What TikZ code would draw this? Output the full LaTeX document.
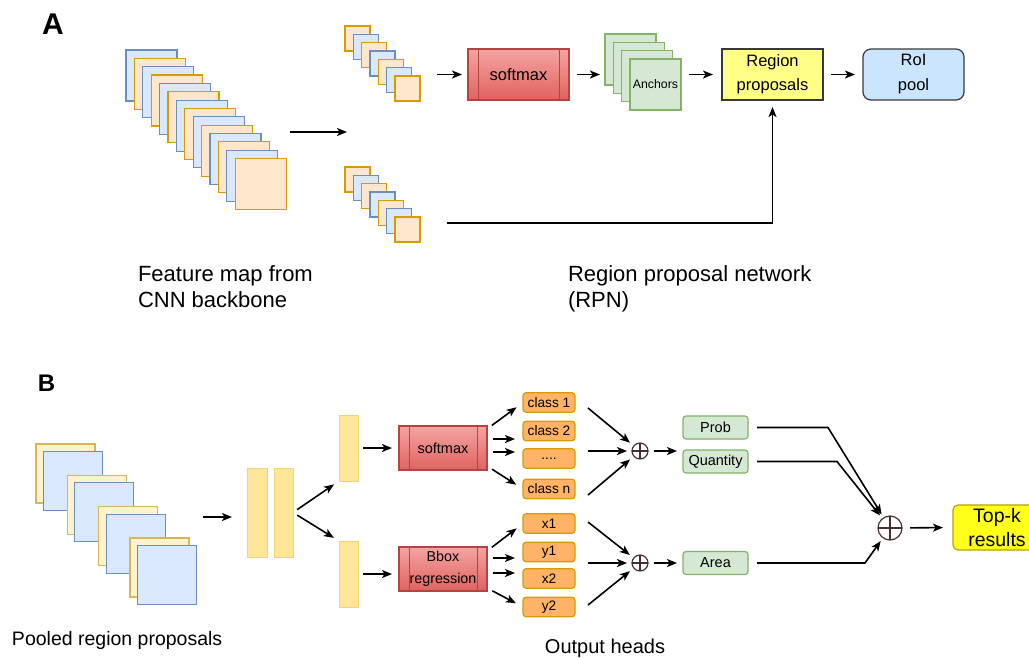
\documentclass[tikz,border=0pt]{standalone}
\usepackage{fontspec}
\setmainfont{Liberation Sans}
\usepackage{tikz}
\usetikzlibrary{arrows.meta, positioning, calc}

\definecolor{bluefill}{HTML}{DAE8FC}
\definecolor{blueline}{HTML}{6C8EBF}
\definecolor{orangefill}{HTML}{FFE6CC}
\definecolor{orangeline}{HTML}{D79B00}
\definecolor{greenfill}{HTML}{D5E8D4}
\definecolor{greenline}{HTML}{82B366}
\definecolor{paleyellow}{HTML}{FFF2CC}
\definecolor{paleyellowline}{HTML}{D6B656}
\definecolor{barfill}{HTML}{FFE699}
\definecolor{barline}{HTML}{F2D27A}
\definecolor{redtop}{HTML}{F4A4A2}
\definecolor{redbottom}{HTML}{E0625F}
\definecolor{redline}{HTML}{B24442}
\definecolor{propyellow}{HTML}{FFFF88}
\definecolor{roiblue}{HTML}{CCE5FF}
\definecolor{darkline}{HTML}{36393D}
\definecolor{headfill}{HTML}{FFB366}
\definecolor{topkyellow}{HTML}{FFFF1A}
\definecolor{topkline}{HTML}{B8A200}
\definecolor{crossline}{HTML}{4A2E2E}

\newcommand{\fs}[2]{\fontsize{#1}{#2}\selectfont}

\begin{document}
\begin{tikzpicture}[x=1pt, y=-1pt, >={Stealth[length=10pt, width=8pt, inset=2.5pt]}, line width=1.6pt,
    every node/.style={inner sep=0pt, outer sep=0pt},
    sq/.style={draw, line width=1.2pt, minimum size=#1},
    redbox/.style={draw=redline, top color=redtop, bottom color=redbottom, line width=1.2pt,
        path picture={\draw[redline, line width=1pt]
            ([xshift=10pt]path picture bounding box.north west) -- ([xshift=10pt]path picture bounding box.south west)
            ([xshift=-10pt]path picture bounding box.north east) -- ([xshift=-10pt]path picture bounding box.south east);}},
    bar/.style={draw=barline, fill=barfill, line width=1pt},
    head/.style={draw=orangeline, fill=headfill, rounded corners=3pt, line width=1.2pt,
        minimum width=52pt, minimum height=19.5pt, font=\fs{13.7}{16}},
    score/.style={draw=greenline, fill=greenfill, rounded corners=3pt, line width=1.2pt,
        minimum width=65pt, minimum height=23pt, font=\fs{14.5}{17}},
    oplus/.style={circle, draw=crossline, line width=1.2pt, minimum size=#1,
        path picture={\draw[crossline, line width=1.2pt]
            (path picture bounding box.north) -- (path picture bounding box.south)
            (path picture bounding box.west) -- (path picture bounding box.east);}},
    flow/.style={->, shorten <=6pt, shorten >=6pt},
    fan/.style={->, shorten <=6pt, shorten >=8pt}]

    \fill[white] (0,0) rectangle (1029,657);
    \useasboundingbox (0,0) rectangle (1029,657);

    % ---------------- A: region proposal network
    \node[font=\bfseries\fs{30}{30}] (lblA) at (53,24) {A};

    % feature map
    \foreach \i in {0,...,13}{
        \ifodd\i \def\cf{orangefill}\def\cl{orangeline}\else \def\cf{bluefill}\def\cl{blueline}\fi
        \node[sq=51pt, fill=\cf, draw=\cl] (f\i) at (151.5+8.4*\i, 75.5+8.35*\i) {};
    }
    % two small maps
    \foreach \i in {0,...,6}{
        \ifodd\i \def\cf{bluefill}\def\cl{blueline}\else \def\cf{orangefill}\def\cl{orangeline}\fi
        \node[sq=25pt, fill=\cf, draw=\cl] (u\i) at (357.5+8.33*\i, 38.5+8.33*\i) {};
        \node[sq=25pt, fill=\cf, draw=\cl] (l\i) at (357.5+8.33*\i, 179.5+8.33*\i) {};
    }
    \coordinate (fa1) at (290,132);
    \coordinate (fa2) at (347,132);
    \draw[->] (fa1) -- (fa2);

    \node[redbox, minimum width=101pt, minimum height=51pt, font=\fs{16.5}{20}] (sma) at (518.5,74.5) {softmax};

    % anchors
    \foreach \i in {0,...,2}
        \node[sq=51pt, fill=greenfill, draw=greenline] (a\i) at (630.5+8.33*\i, 59.5+8.33*\i) {};
    \node[sq=51pt, fill=greenfill, draw=greenline, font=\fs{12.3}{14}] (a3) at (655.5,84.5) {Anchors};

    \node[draw=darkline, fill=propyellow, line width=1.2pt, minimum width=101pt, minimum height=51pt,
          align=center, font=\fs{16.5}{24}] (rp) at (772.5,74.5) {Region\\proposals};
    \node[draw=darkline, fill=roiblue, line width=1.2pt, rounded corners=8pt, minimum width=101pt,
          minimum height=51pt, align=center, font=\fs{16.5}{25}, right=40pt of rp] (roi) {RoI\\pool};

    \coordinate (ua) at (437,74.5);
    \draw[->, shorten >=6pt] (ua) -- (sma.west);
    \draw[->, shorten <=8pt, shorten >=5pt] (sma.east) -- (sma.east -| a0.west);
    \draw[->, shorten <=8pt, shorten >=9pt] (rp.west -| a3.east) -- (rp.west);
    \draw[->, shorten <=8pt, shorten >=8pt] (rp.east) -- (roi.west);
    \coordinate (lb) at (447,223);
    \draw[->, shorten >=7pt] (lb) -| (rp.south);

    \node[anchor=north west, align=left, font=\fs{22}{26}] (fmtext) at (138,266) {Feature map from\\CNN backbone};
    \node[anchor=north west, align=left, font=\fs{22}{26}] (rpntext) at (568,266) {Region proposal network\\(RPN)};

    % ---------------- B: output heads
    \node[font=\bfseries\fs{24}{24}] (lblB) at (46.5,383.5) {B};

    \foreach \j in {0,...,3}{
        \node[sq=59pt, fill=paleyellow, draw=paleyellowline] (py\j) at (65.5+31.3*\j, 473.5+31.3*\j) {};
        \node[sq=59pt, fill=bluefill, draw=blueline] (pq\j) at (73+31.3*\j, 481+31.3*\j) {};
    }
    \node[anchor=west, font=\fs{19.5}{23}] (pooltext) at (12,640) {Pooled region proposals};

    \coordinate (pa) at (203,517);
    \coordinate (pb) at (232,517);
    \draw[->] (pa) -- (pb);

    \node[bar, minimum width=20pt, minimum height=89pt] (bar1) at (257,512.5) {};
    \node[bar, minimum width=19pt, minimum height=89pt, right=7pt of bar1] (bar2) {};
    \node[bar, minimum width=19pt, minimum height=66pt] (hu) at (348.5,448) {};
    \node[bar, minimum width=19pt, minimum height=66pt] (hl) at (348.5,574) {};
    \draw[->, shorten <=5pt, shorten >=6pt] (bar2.east) -- (hu.south west);
    \draw[->, shorten <=5pt, shorten >=6pt] (bar2.east) -- (hl.north west);

    \node[redbox, minimum width=88pt, minimum height=44pt, font=\fs{14.5}{18}] (smb) at (443,448) {softmax};
    \node[redbox, minimum width=88pt, minimum height=44pt, align=center, font=\fs{14.3}{22}] (bb) at (443,569) {Bbox\\regression};
    \draw[->, shorten <=5pt, shorten >=7pt] (hu.east) -- (smb.west);
    \draw[->, shorten <=5pt, shorten >=7pt] (hl.east) -- (hl.east -| bb.west);

    % class heads
    \node[head] (c1) at (549,402.5) {class 1};
    \node[head, below=9pt of c1] (c2) {class 2};
    \node[head, below=8pt of c2] (c3) {....};
    \node[head, below=11pt of c3] (cn) {class n};
    \draw[fan] ([yshift=19pt]smb.east) -- (c1.west);
    \draw[fan] ([yshift=9pt]smb.east) -- ([yshift=9pt]smb.east -| c2.west);
    \draw[fan] ([yshift=-4pt]smb.east) -- ([yshift=-4pt]smb.east -| c3.west);
    \draw[fan] ([yshift=-18pt]smb.east) -- (cn.west);

    % box heads
    \node[head] (x1) at (549,523.5) {x1};
    \node[head, below=9pt of x1] (y1) {y1};
    \node[head, below=7pt of y1] (x2) {x2};
    \node[head, below=9pt of x2] (y2) {y2};
    \draw[fan] ([yshift=18pt]bb.east) -- (x1.west);
    \draw[fan] ([yshift=11pt]bb.east) -- ([yshift=11pt]bb.east -| y1.west);
    \draw[fan] ([yshift=-4pt]bb.east) -- ([yshift=-4pt]bb.east -| x2.west);
    \draw[fan] ([yshift=-19pt]bb.east) -- (y2.west);

    % sums
    \node[oplus=16pt] (p1) at (640,451) {};
    \node[oplus=16pt] (p2) at (640,563) {};
    \draw[->, shorten >=5pt] ($(c1.east)+(13,5.5)$) -- (p1);
    \draw[->, shorten <=13pt, shorten >=5pt] (c3.east |- p1) -- (p1);
    \draw[->, shorten >=5pt] ($(cn.east)+(13,6)$) -- (p1);
    \draw[->, shorten >=5pt] ($(x1.east)+(13,-1.5)$) -- (p2);
    \draw[->, shorten <=13pt, shorten >=5pt] (y1.east |- p2) -- (p2);
    \draw[->, shorten >=5pt] ($(y2.east)+(13,-2)$) -- (p2);

    \node[score] (prob) at (715.5,427.5) {Prob};
    \node[score, below=11pt of prob] (qty) {Quantity};
    \node[score] (area) at (715.5,563) {Area};
    \draw[flow] (p1.east) -- (p1.east -| qty.west);
    \draw[flow] (p2.east) -- (area.west);

    \node[oplus=24pt] (pp) at (890,528) {};
    \draw[->, shorten <=9pt, shorten >=4pt] (prob.east) -- ([xshift=80pt]prob.east) -- (pp);
    \draw[->, shorten <=9pt, shorten >=4pt] (qty.east) -- ([xshift=89pt]qty.east) -- (pp);
    \draw[->, shorten <=9pt, shorten >=4pt] (area.east) -- ([xshift=117pt]area.east) -- (pp);

    \node[draw=topkline, fill=topkyellow, line width=1.2pt, rounded corners=5pt, minimum width=88pt,
          minimum height=45pt, align=center, font=\fs{19.5}{24}] (tk) at (997,527.5) {Top-k\\results};
    \draw[->, shorten <=8pt, shorten >=10pt] (pp) -- (tk.west);

    \node[font=\fs{20}{24}] (headtext) at (605,648) {Output heads};
\end{tikzpicture}
\end{document}
